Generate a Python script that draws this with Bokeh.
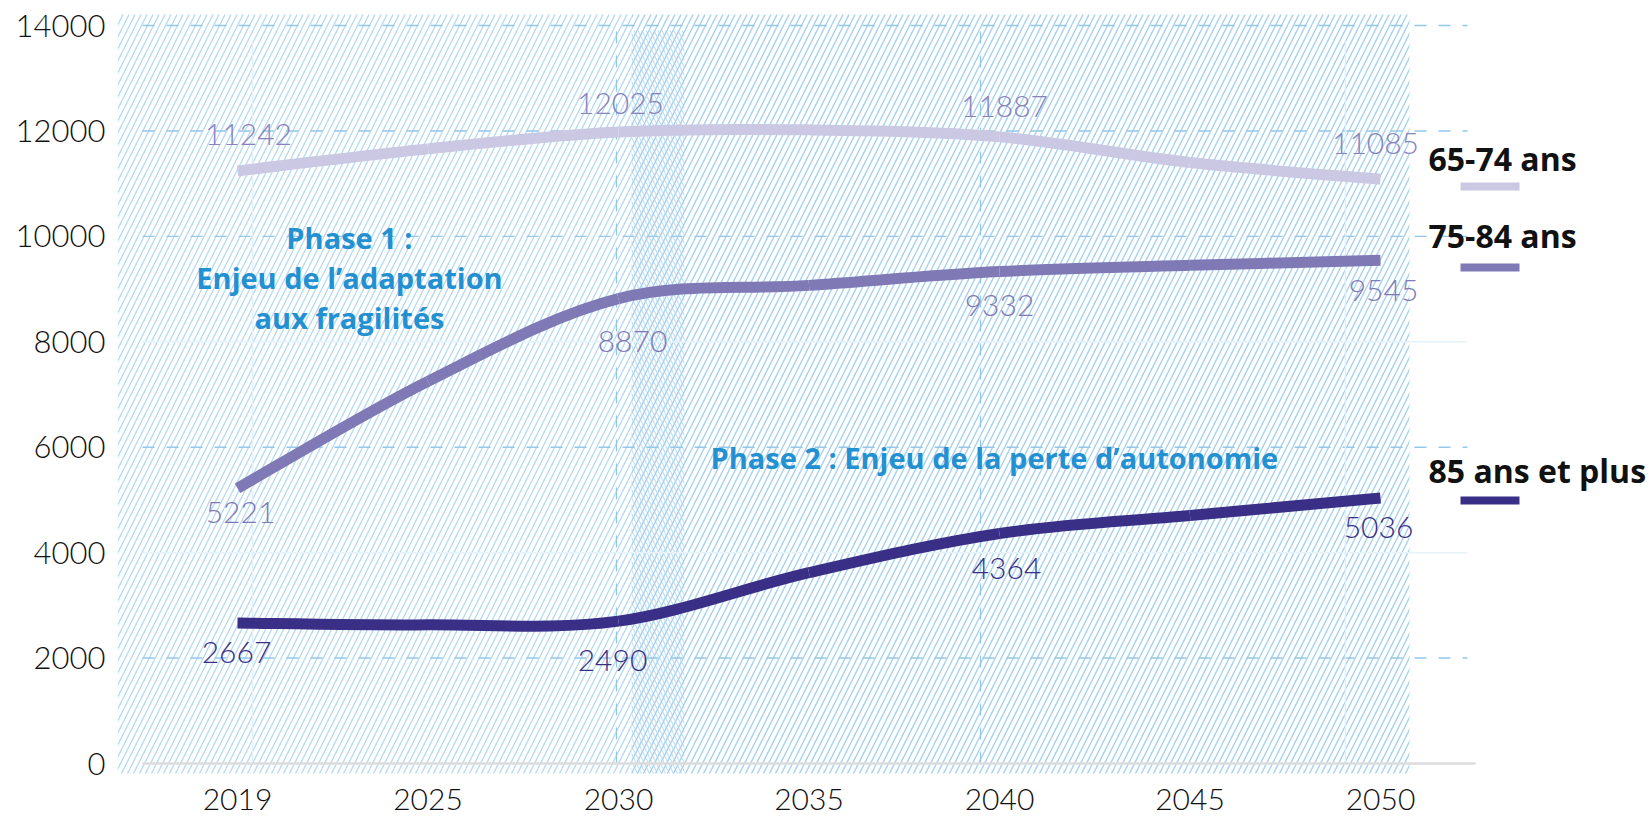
import numpy as np
from bokeh.plotting import figure
from bokeh.models import Range1d, FixedTicker, ColumnDataSource
from bokeh.core.properties import value
from bokeh.embed import file_html
from bokeh.resources import INLINE

# ---------------- data ----------------
years = ["2019", "2025", "2030", "2035", "2040", "2045", "2050"]
series_names = ["65-74 ans", "75-84 ans", "85 ans et plus"]
v_65_74 = [11242, 11660, 11980, 12020, 11887, 11400, 11085]
v_75_84 = [5221, 7250, 8820, 9070, 9332, 9450, 9545]
v_85_plus = [2667, 2630, 2700, 3620, 4364, 4705, 5036]
label_idx = [0, 2, 4, 6]
lab_65_74 = [11242, 12025, 11887, 11085]
lab_75_84 = [5221, 8870, 9332, 9545]
lab_85_plus = [2667, 2490, 4364, 5036]
y_ticks = [0, 2000, 4000, 6000, 8000, 10000, 12000, 14000]
phase1_lines = ["Phase 1 :", "Enjeu de l\u2019adaptation", "aux fragilités"]
phase2_text = "Phase 2 : Enjeu de la perte d\u2019autonomie"

# ---------------- styles ----------------
C_6574 = "#cbc8e4"
C_7584 = "#7f7ab6"
C_85 = "#3a2f86"
C_LAB_6574 = "#8783bd"
BLUE_TXT = "#2390d2"
HATCH1 = "#b3d9f1"
HATCH2 = "#a6d1ee"
GRID = "#93c8ea"

FIG_W, FIG_H = 1649, 818
X0PX, STEP = 237.0, 190.5         # page px of first category, spacing
Y0PX, K = 763.0, 738.0 / 14000.0  # page px of y=0, px per unit
FL, FR, FT, FB = 117.0, float(FIG_W), 0.0, float(FIG_H)  # frame edges (page px)


def dx(px):
    return (px - X0PX) / STEP


def dy(py):
    return (Y0PX - py) / K


p = figure(width=FIG_W, height=FIG_H, output_backend="svg", toolbar_location=None,
           x_range=Range1d(dx(FL), dx(FR)), y_range=Range1d(dy(FB), dy(FT)),
           x_axis_location=None,
           min_border_left=int(FL), min_border_right=0, min_border_top=0,
           min_border_bottom=0)
p.outline_line_color = None
p.background_fill_color = "white"
p.border_fill_color = "white"
p.xgrid.visible = False
p.ygrid.visible = False

# --- scribble-like hatched background ---
p.quad(left=[dx(FL)], right=[dx(631)], bottom=[dy(773)], top=[dy(14)],
       fill_color="white", line_color=None, hatch_pattern="/", hatch_color=HATCH1,
       hatch_scale=12, hatch_weight=1.3)
p.quad(left=[dx(631)], right=[dx(1409)], bottom=[dy(773)], top=[dy(14)],
       fill_color="white", line_color=None, hatch_pattern="/", hatch_color=HATCH2,
       hatch_scale=12, hatch_weight=1.4)
p.quad(left=[dx(631)], right=[dx(684)], bottom=[dy(773)], top=[dy(30)],
       fill_alpha=0, line_color=None, hatch_pattern="\\", hatch_color=HATCH2,
       hatch_scale=8, hatch_weight=1.1, hatch_alpha=0.7)

# --- gridlines ---
dashed_vals = [v for v in y_ticks if v in (2000, 6000, 10000, 12000, 14000)]
faint_vals = [v for v in y_ticks if v in (4000, 8000)]
p.segment(x0=dx(142), x1=dx(1467), y0=dashed_vals, y1=dashed_vals,
          line_color=GRID, line_width=1.4, line_dash="12 12")
p.segment(x0=dx(142), x1=dx(1467), y0=faint_vals, y1=faint_vals,
          line_color="#e6f2fa", line_width=1.5)
for xx in (dx(616), dx(980)):
    p.segment(x0=[xx], x1=[xx], y0=[0], y1=[14000], line_color=GRID,
              line_width=1.2, line_dash="12 12")
for xx in (dx(252), dx(1345)):
    p.segment(x0=[xx], x1=[xx], y0=[0], y1=[dy(40)], line_color="#e3f0f9",
              line_width=1.5)
# baseline
p.segment(x0=[-0.5], x1=[6.5], y0=[0], y1=[0], line_color="#dcdcdc", line_width=2.5)


# --- smooth series curves (cubic Bezier through the data points) ---
def bez(vals):
    x = np.arange(len(vals), dtype=float)
    y = np.asarray(vals, dtype=float)
    n = len(x) - 1
    xp = np.r_[x[0], x, x[-1]]
    yp = np.r_[y[0], y, y[-1]]
    return dict(
        x0=x[:-1], y0=y[:-1], x1=x[1:], y1=y[1:],
        cx0=xp[1:n + 1] + (xp[2:n + 2] - xp[0:n]) / 6.0,
        cy0=yp[1:n + 1] + (yp[2:n + 2] - yp[0:n]) / 6.0,
        cx1=xp[2:n + 2] - (xp[3:n + 3] - xp[1:n + 1]) / 6.0,
        cy1=yp[2:n + 2] - (yp[3:n + 3] - yp[1:n + 1]) / 6.0,
    )


for vals, col in ((v_65_74, C_6574), (v_75_84, C_7584), (v_85_plus, C_85)):
    p.bezier(source=ColumnDataSource(bez(vals)), x0="x0", y0="y0", x1="x1", y1="y1",
             cx0="cx0", cy0="cy0", cx1="cx1", cy1="cy1",
             line_color=col, line_width=11, line_cap="butt")

# --- value labels ---
NUM_FONT = value("Lato Light")
label_sets = [
    (lab_65_74, C_LAB_6574, [11, 2, 5, -5], [-36, -26, -30, -36]),
    (lab_75_84, C_7584, [3, 14, 0, 3], [24, 46, 34, 30]),
    (lab_85_plus, C_85, [-1, -6, 7, -2], [30, 28, 35, 29]),
]
for labs, col, xo, yo in label_sets:
    src = ColumnDataSource(dict(x=label_idx, y=labs, t=[str(v) for v in labs], xo=xo, yo=yo))
    p.text(x="x", y="y", text="t", x_offset="xo", y_offset="yo", source=src,
           text_font=NUM_FONT, text_font_size="30px", text_color=col,
           text_align="center", text_baseline="middle")

# --- x category labels (below the baseline) ---
p.text(x=list(range(len(years))), y=[dy(799)] * len(years), text=years,
       text_font=NUM_FONT, text_font_size="30px", text_color="#111111",
       text_align="center", text_baseline="middle")

# --- phase annotations ---
PH_FONT = value("Open Sans")
p.text(x=[dx(349)] * 3, y=[dy(237), dy(277), dy(317)], text=phase1_lines,
       text_font=PH_FONT, text_font_style="bold", text_font_size="29px",
       text_color=BLUE_TXT, text_align="center", text_baseline="middle")
p.text(x=[dx(710)], y=[dy(457)], text=[phase2_text],
       text_font=PH_FONT, text_font_style="bold", text_font_size="29px",
       text_color=BLUE_TXT, text_align="left", text_baseline="middle")

# --- legend (label above a short line) ---
leg_y_text = [dy(158), dy(235), dy(470)]
leg_y_line = [dy(186), dy(267), dy(500)]
p.text(x=[dx(1428)] * 3, y=leg_y_text, text=series_names,
       text_font=PH_FONT, text_font_style="bold", text_font_size="32px",
       text_color="#111111", text_align="left", text_baseline="middle")
p.segment(x0=[dx(1460)] * 3, x1=[dx(1519)] * 3, y0=leg_y_line, y1=leg_y_line,
          line_color=[C_6574, C_7584, C_85], line_width=8, line_cap="butt")

# --- y axis ---
p.yaxis.ticker = FixedTicker(ticks=y_ticks)
p.yaxis.axis_line_color = None
p.yaxis.major_tick_line_color = None
p.yaxis.minor_tick_line_color = None
p.yaxis.major_label_standoff = 6
p.yaxis.major_label_text_font = "Lato Light"
p.yaxis.major_label_text_font_size = "31px"
p.yaxis.major_label_text_color = "#111111"

open("out.html", "w").write(file_html(p, INLINE))
